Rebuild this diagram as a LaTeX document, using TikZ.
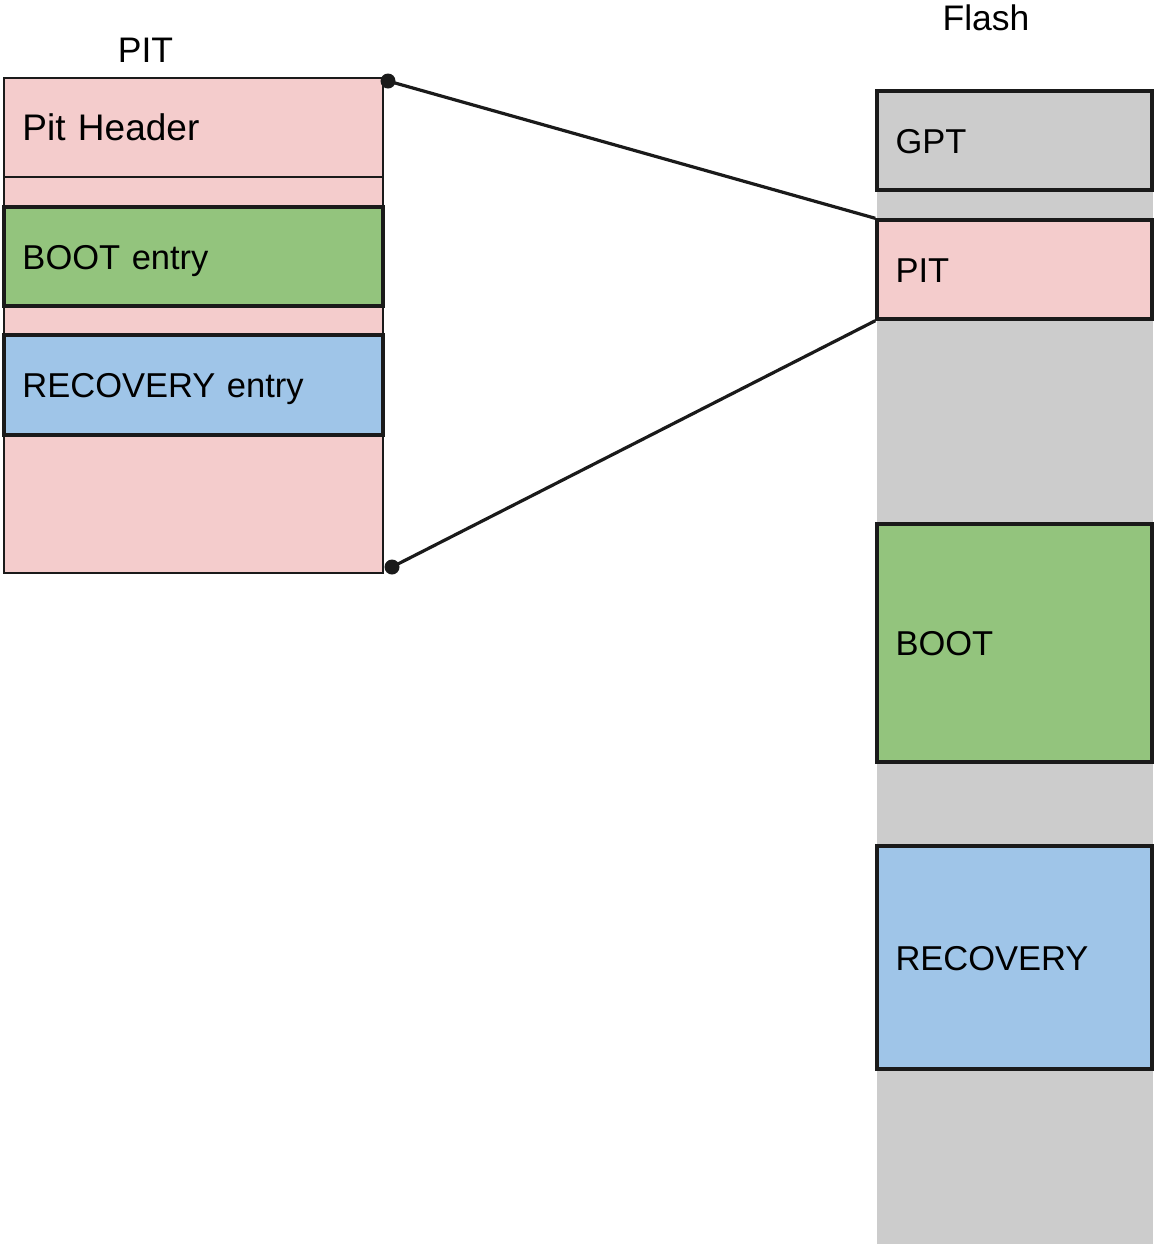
\documentclass[tikz,border=0pt]{standalone}
\usepackage{fontspec}
\setmainfont{Liberation Sans}
\definecolor{pitpink}{HTML}{F4CCCC}
\definecolor{bootgreen}{HTML}{93C47D}
\definecolor{recblue}{HTML}{9FC5E8}
\definecolor{flashgray}{HTML}{CCCCCC}
\definecolor{edge}{HTML}{1A1A1A}
\tikzset{
  lbl/.style={font=\fontsize{17.25pt}{20pt}\selectfont, text height=12.5pt, text depth=0pt},
  biglbl/.style={font=\fontsize{18.5pt}{21pt}\selectfont, text height=13.25pt, text depth=0pt},
  hdr/.style={font=\fontsize{17.75pt}{20pt}\selectfont, text height=13pt, text depth=0pt, inner sep=0pt},
  thinbox/.style={draw=edge, line width=0.75pt, rectangle, lbl, align=left, inner xsep=9.25pt, inner ysep=0pt},
  thickbox/.style={thinbox, line width=1.7pt},
  leftbox/.style={minimum width=189.5pt, text width=171pt},
  rightbox/.style={minimum width=137.5pt, text width=119pt},
  dotnode/.style={circle, fill=edge, inner sep=0pt, minimum size=7.5pt},
  conn/.style={draw=edge, line width=1.6pt}
}
\begin{document}
\begin{tikzpicture}[x=0.5pt,y=-0.5pt]
\useasboundingbox (0,0) rectangle (1153,1244);
% left PIT
\node[thinbox, leftbox, fill=pitpink, minimum height=247.5pt] (pitall) at (193.5,325.5) {};
\node[thinbox, leftbox, biglbl, fill=pitpink, minimum height=49.5pt] (pithdr) at (193.5,127.5) {Pit Header};
\node[thickbox, leftbox, fill=bootgreen, minimum height=49.5pt] (bootent) at (193.5,256.5) {BOOT entry};
\node[thickbox, leftbox, fill=recblue, minimum height=50pt] (recent) at (193.5,385) {RECOVERY entry};
\node[hdr] (pittitle) at (145.5,49.5) {PIT};
% right Flash
\node[rectangle, fill=flashgray, inner sep=0pt, minimum width=138pt, minimum height=576.5pt] (flashcol) at (1015,667.5) {};
\node[thickbox, rightbox, fill=flashgray, minimum height=49.5pt] (gpt) at (1014.5,140.5) {GPT};
\node[thickbox, rightbox, fill=pitpink, minimum height=49.5pt] (rpit) at (1014.5,269.5) {PIT};
\node[thickbox, rightbox, fill=bootgreen, minimum height=119pt] (rboot) at (1014.5,643) {BOOT};
\node[thickbox, rightbox, fill=recblue, minimum height=111.5pt] (rrec) at (1014.5,957.5) {RECOVERY};
\node[hdr] (flashtitle) at (986,17.5) {Flash};
% connectors
\node[dotnode] (d1) at (388,81) {};
\node[dotnode] (d2) at (392,567) {};
\draw[conn] (d1.center) -- (rpit.north west);
\draw[conn] (rpit.south west) -- (d2.center);
\end{tikzpicture}
\end{document}
